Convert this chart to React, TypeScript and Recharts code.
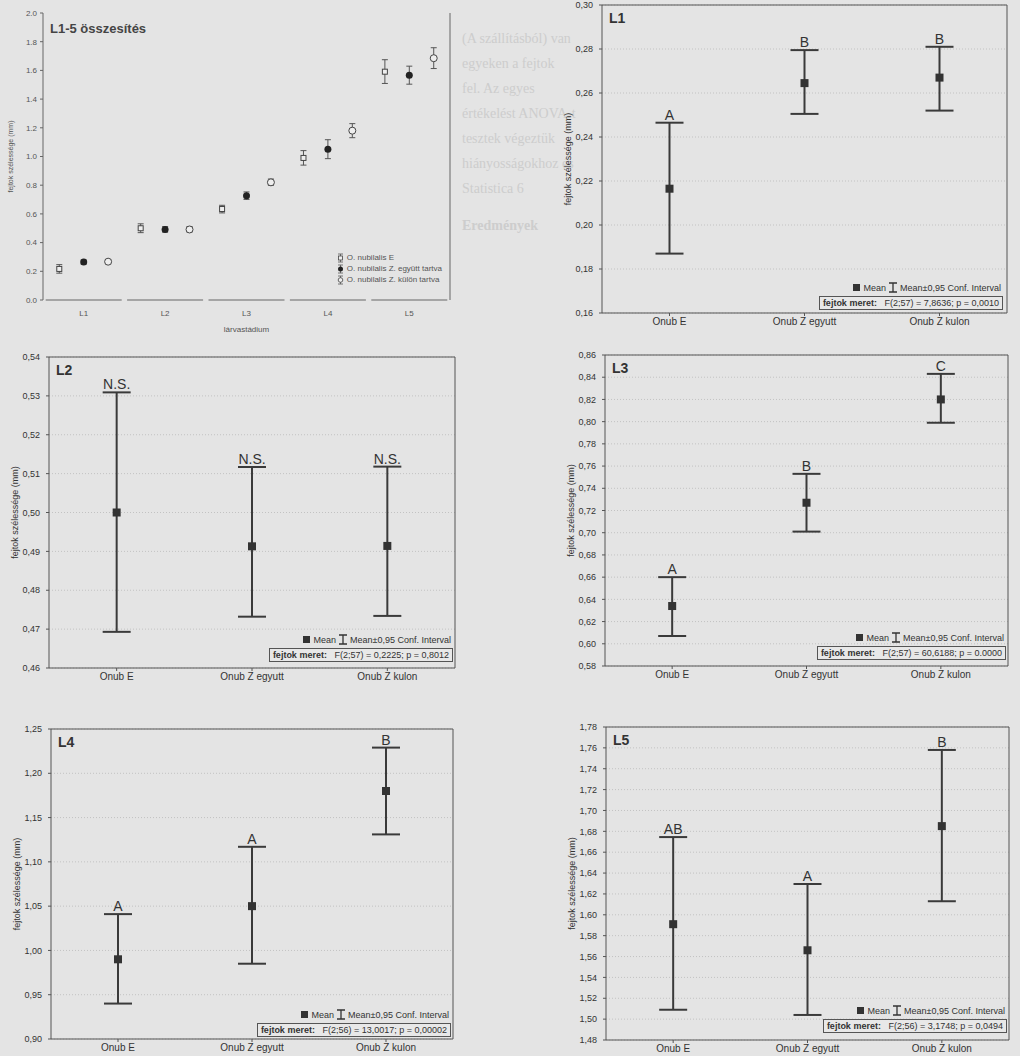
import React from 'react'
import { ComposedChart, ScatterChart, Line, Scatter, ErrorBar, XAxis, YAxis, CartesianGrid, LabelList, Legend } from 'recharts'

const FONT = '"Liberation Sans", Arial, sans-serif'
const INK = '#333'

// larval stages and rearing groups
const stages = ['L1', 'L2', 'L3', 'L4', 'L5']
const groups = ['Onub E', 'Onub Z egyutt', 'Onub Z kulon']
const seriesNames = ['O. nubilalis E', 'O. nubilalis Z. együtt tartva', 'O. nubilalis Z. külön tartva']

// head capsule width (mm): mean and 95% CI, one value per stage
const meanE = [0.2165, 0.5, 0.634, 0.99, 1.591]
const lowE = [0.187, 0.4693, 0.607, 0.94, 1.509]
const highE = [0.2465, 0.5309, 0.66, 1.041, 1.6745]

const meanZe = [0.2645, 0.4913, 0.727, 1.05, 1.566]
const lowZe = [0.2505, 0.4732, 0.701, 0.985, 1.504]
const highZe = [0.2795, 0.5117, 0.753, 1.117, 1.6295]

const meanZk = [0.267, 0.4914, 0.82, 1.18, 1.685]
const lowZk = [0.252, 0.4734, 0.799, 1.131, 1.613]
const highZk = [0.281, 0.5118, 0.843, 1.229, 1.758]

// Tukey letters and ANOVA results per stage
const letters = [
  ['A', 'B', 'B'],
  ['N.S.', 'N.S.', 'N.S.'],
  ['A', 'B', 'C'],
  ['A', 'A', 'B'],
  ['AB', 'A', 'B'],
]
const stats = [
  'F(2;57) = 7,8636; p = 0,0010',
  'F(2;57) = 0,2225; p = 0,8012',
  'F(2;57) = 60,6188; p = 0.0000',
  'F(2;56) = 13,0017; p = 0,00002',
  'F(2;56) = 3,1748; p = 0,0494',
]

// axis ticks
const ticksL1 = [0.16, 0.18, 0.2, 0.22, 0.24, 0.26, 0.28, 0.3]
const ticksL2 = [0.46, 0.47, 0.48, 0.49, 0.5, 0.51, 0.52, 0.53, 0.54]
const ticksL3 = [0.58, 0.6, 0.62, 0.64, 0.66, 0.68, 0.7, 0.72, 0.74, 0.76, 0.78, 0.8, 0.82, 0.84, 0.86]
const ticksL4 = [0.9, 0.95, 1, 1.05, 1.1, 1.15, 1.2, 1.25]
const ticksL5 = [1.48, 1.5, 1.52, 1.54, 1.56, 1.58, 1.6, 1.62, 1.64, 1.66, 1.68, 1.7, 1.72, 1.74, 1.76, 1.78]
const ticksAll = [0, 0.2, 0.4, 0.6, 0.8, 1, 1.2, 1.4, 1.6, 1.8, 2]
const stageTicks = [ticksL1, ticksL2, ticksL3, ticksL4, ticksL5]

const meansBy = [meanE, meanZe, meanZk]
const lowsBy = [lowE, lowZe, lowZk]
const highsBy = [highE, highZe, highZk]

// layout of the five stage panels on the page
const panelBoxes = [
  { left: 540, top: 0, w: 480, h: 335, m: { top: 4, right: 12, left: 17, bottom: 2 }, xh: 20, lg: { right: 17, bottom: 25 } },
  { left: 0, top: 340, w: 470, h: 350, m: { top: 16, right: 14, left: 4, bottom: 2 }, xh: 20, lg: { right: 17, bottom: 28 } },
  { left: 540, top: 340, w: 480, h: 350, m: { top: 14, right: 11, left: 20, bottom: 4 }, xh: 20, lg: { right: 14, bottom: 30 } },
  { left: 0, top: 715, w: 470, h: 341, m: { top: 13, right: 16, left: 6, bottom: 1 }, xh: 16, lg: { right: 19, bottom: 19 } },
  { left: 540, top: 715, w: 480, h: 341, m: { top: 11, right: 10, left: 21, bottom: 1 }, xh: 15, lg: { right: 13, bottom: 23 } },
]

const fmt2 = (v: number) => v.toFixed(2).replace('.', ',')

function stageRows(s: number) {
  return groups.map((g, i) => ({
    cat: g,
    mean: meansBy[i][s],
    err: [meansBy[i][s] - lowsBy[i][s], highsBy[i][s] - meansBy[i][s]],
    hi: highsBy[i][s],
    sig: letters[s][i],
  }))
}

const MeanSquare = (p: any) => (
  <rect key={p.index} x={p.cx - 4} y={p.cy - 4} width={8} height={8} fill={INK} />
)

const statLegend = (stat: string) => () => (
  <div style={{ fontFamily: FONT, fontSize: 9, color: INK, display: 'flex', flexDirection: 'column', alignItems: 'flex-end' }}>
    <div style={{ display: 'flex', alignItems: 'center', marginBottom: 3, marginRight: 2 }}>
      <span style={{ width: 7, height: 7, background: INK, display: 'inline-block', marginRight: 3 }} />
      <span>Mean</span>
      <svg width={10} height={11} style={{ margin: '0 2px' }}>
        <path d="M1 1H9M5 1V10M1 10H9" stroke={INK} strokeWidth={1.3} fill="none" />
      </svg>
      <span>Mean±0,95 Conf. Interval</span>
    </div>
    <div style={{ border: '1px solid #555', padding: '1px 3px', background: '#e8e8e8', whiteSpace: 'pre' }}>
      <b>fejtok meret:</b>{'   '}{stat}
    </div>
  </div>
)

function StagePanel({ s }: { s: number }) {
  const b = panelBoxes[s]
  const ticks = stageTicks[s]
  const dom = [ticks[0], ticks[ticks.length - 1]]
  return (
    <div style={{ position: 'absolute', left: b.left, top: b.top }}>
      <ComposedChart width={b.w} height={b.h} data={stageRows(s)} margin={b.m}>
        <CartesianGrid vertical={false} stroke="#c2c2c2" strokeDasharray="1 2" />
        <XAxis dataKey="cat" scale="band" interval={0} height={b.xh} tickSize={3} tickMargin={2} stroke="#555"
          tick={{ fontSize: 10, fill: INK, fontFamily: FONT }} />
        <XAxis xAxisId="top" orientation="top" dataKey="cat" scale="band" height={1} tick={false} tickSize={3} stroke="#555" />
        <YAxis type="number" domain={dom} ticks={ticks} interval={0} width={45} allowDataOverflow
          tickFormatter={fmt2} tickSize={3} tickMargin={6} stroke="#555"
          tick={{ fontSize: 9, fill: INK, fontFamily: FONT }}
          label={{ value: 'fejtok szélessége (mm)', angle: -90, position: 'insideLeft', offset: 11,
            style: { fontSize: 9, fill: INK, fontFamily: FONT, textAnchor: 'middle' } }} />
        <YAxis yAxisId="r" orientation="right" type="number" domain={dom} ticks={ticks} width={1}
          tick={false} tickLine={false} stroke="#555" allowDataOverflow />
        <Line dataKey="mean" stroke="none" dot={MeanSquare} activeDot={false} isAnimationActive={false}>
          <ErrorBar dataKey="err" direction="y" width={14} strokeWidth={2} stroke="#3a3a3a" />
        </Line>
        <Line dataKey="hi" stroke="none" dot={false} activeDot={false} isAnimationActive={false}>
          <LabelList dataKey="sig" position="top" offset={3}
            style={{ fontSize: 14, fill: INK, fontFamily: FONT }} />
        </Line>
        <Legend content={statLegend(stats[s])} layout="horizontal" verticalAlign="middle" align="center"
          wrapperStyle={{ right: b.lg.right, bottom: b.lg.bottom, left: 'auto', top: 'auto', width: 'auto' }} />
      </ComposedChart>
      <div style={{ position: 'absolute', left: b.m.left + 45 + 7, top: b.m.top + 6, fontFamily: FONT,
        fontWeight: 'bold', fontSize: 14, color: INK }}>
        {stages[s]}
      </div>
    </div>
  )
}

// summary chart: all stages side by side
const offsets = [-0.3, 0, 0.3]
const summaryRows = (i: number) =>
  stages.map((st, s) => ({
    x: s + 1 + offsets[i],
    y: meansBy[i][s],
    err: [meansBy[i][s] - lowsBy[i][s], highsBy[i][s] - meansBy[i][s]],
  }))

const shapeE = (p: any) => <rect x={p.cx - 2.5} y={p.cy - 2.5} width={5} height={5} fill="#eee" stroke="#444" />
const shapeZe = (p: any) => <circle cx={p.cx} cy={p.cy} r={3.5} fill="#222" />
const shapeZk = (p: any) => <circle cx={p.cx} cy={p.cy} r={3.5} fill="#eee" stroke="#444" />

function SegTick(props: any) {
  const { x, y, payload, showText } = props
  return (
    <g>
      <line x1={x - 38} x2={x + 38} y1={y} y2={y} stroke="#666" strokeWidth={1} />
      {showText && (
        <text x={x} y={y + 16} textAnchor="middle" fontSize={8} fill="#555" fontFamily={FONT}>
          {stages[payload.value - 1]}
        </text>
      )}
    </g>
  )
}

const summaryLegend = () => (
  <div style={{ fontFamily: FONT, fontSize: 8, color: '#555', lineHeight: '11px' }}>
    {seriesNames.map((n, i) => (
      <div key={n} style={{ display: 'flex', alignItems: 'center' }}>
        <svg width={7} height={10} style={{ marginRight: 3 }}>
          <path d="M1 1H6M3.5 1V9M1 9H6" stroke="#555" strokeWidth={0.8} fill="none" />
          {i === 0 && <rect x={1.5} y={3} width={4} height={4} fill="#eee" stroke="#444" strokeWidth={0.8} />}
          {i === 1 && <circle cx={3.5} cy={5} r={2.5} fill="#222" />}
          {i === 2 && <circle cx={3.5} cy={5} r={2.3} fill="#eee" stroke="#444" strokeWidth={0.8} />}
        </svg>
        {n}
      </div>
    ))}
  </div>
)

function SummaryChart() {
  const shapes = [shapeE, shapeZe, shapeZk]
  return (
    <div style={{ position: 'absolute', left: 0, top: 0 }}>
      <ScatterChart width={470} height={335} margin={{ top: 12, right: 19, left: 5, bottom: 0 }}>
        <XAxis type="number" dataKey="x" domain={[0.5, 5.5]} ticks={[1, 2, 3, 4, 5]} interval={0}
          axisLine={false} tickLine={false} tickSize={0} tickMargin={0} height={35}
          tick={<SegTick showText />}
          label={{ value: 'lárvastádium', position: 'insideBottom', offset: 3,
            style: { fontSize: 8, fill: '#555', fontFamily: FONT } }} />
        <XAxis xAxisId="top" orientation="top" type="number" dataKey="x" domain={[0.5, 5.5]} ticks={[1, 2, 3, 4, 5]}
          interval={0} axisLine={false} tickLine={false} tickSize={0} tickMargin={0} height={1} tick={<SegTick />} />
        <YAxis type="number" dataKey="y" domain={[0, 2]} ticks={ticksAll} interval={0} width={38}
          tickFormatter={(v: number) => v.toFixed(1)} tickSize={3} tickMargin={3} stroke="#666"
          tick={{ fontSize: 8, fill: '#555', fontFamily: FONT }}
          label={{ value: 'fejtok szélessége (mm)', angle: -90, position: 'insideLeft', offset: 6,
            style: { fontSize: 7, fill: '#555', fontFamily: FONT, textAnchor: 'middle' } }} />
        <YAxis yAxisId="r" orientation="right" type="number" domain={[0, 2]} width={1} tick={false}
          tickLine={false} stroke="#666" />
        {seriesNames.map((n, i) => (
          <Scatter key={n} name={n} data={summaryRows(i)} shape={shapes[i]} isAnimationActive={false}>
            <ErrorBar dataKey="err" direction="y" width={3} strokeWidth={1} stroke="#555" />
          </Scatter>
        ))}
        <Legend content={summaryLegend} layout="horizontal" verticalAlign="middle" align="center"
          wrapperStyle={{ right: 28, bottom: 50, left: 'auto', top: 'auto', width: 'auto' }} />
      </ScatterChart>
      <div style={{ position: 'absolute', left: 50, top: 21, fontFamily: FONT, fontWeight: 'bold',
        fontSize: 13, color: '#444' }}>
        L1-5 összesítés
      </div>
    </div>
  )
}

// faint page text showing between the figures
const gutterTop = [
  '(A szállításból) van',
  'egyeken a fejtok',
  'fel. Az egyes',
  'értékelést ANOVA-t',
  'tesztek végeztük',
  'hiányosságokhoz és',
  'Statistica 6',
]

function PageText() {
  return (
    <div style={{ position: 'absolute', left: 462, top: 26, whiteSpace: 'nowrap',
      fontFamily: '"Liberation Serif", serif', fontSize: 14, lineHeight: '25px', color: '#cdcdcd' }}>
      {gutterTop.map((t) => <div key={t}>{t}</div>)}
      <div style={{ marginTop: 12, fontWeight: 'bold' }}>Eredmények</div>
    </div>
  )
}

export default function App() {
  return (
    <div style={{ position: 'absolute', left: 0, top: 0, width: 1020, height: 1056, background: '#e4e4e4',
      overflow: 'hidden' }}>
      <PageText />
      <SummaryChart />
      {panelBoxes.map((b, s) => <StagePanel key={s} s={s} />)}
    </div>
  )
}
